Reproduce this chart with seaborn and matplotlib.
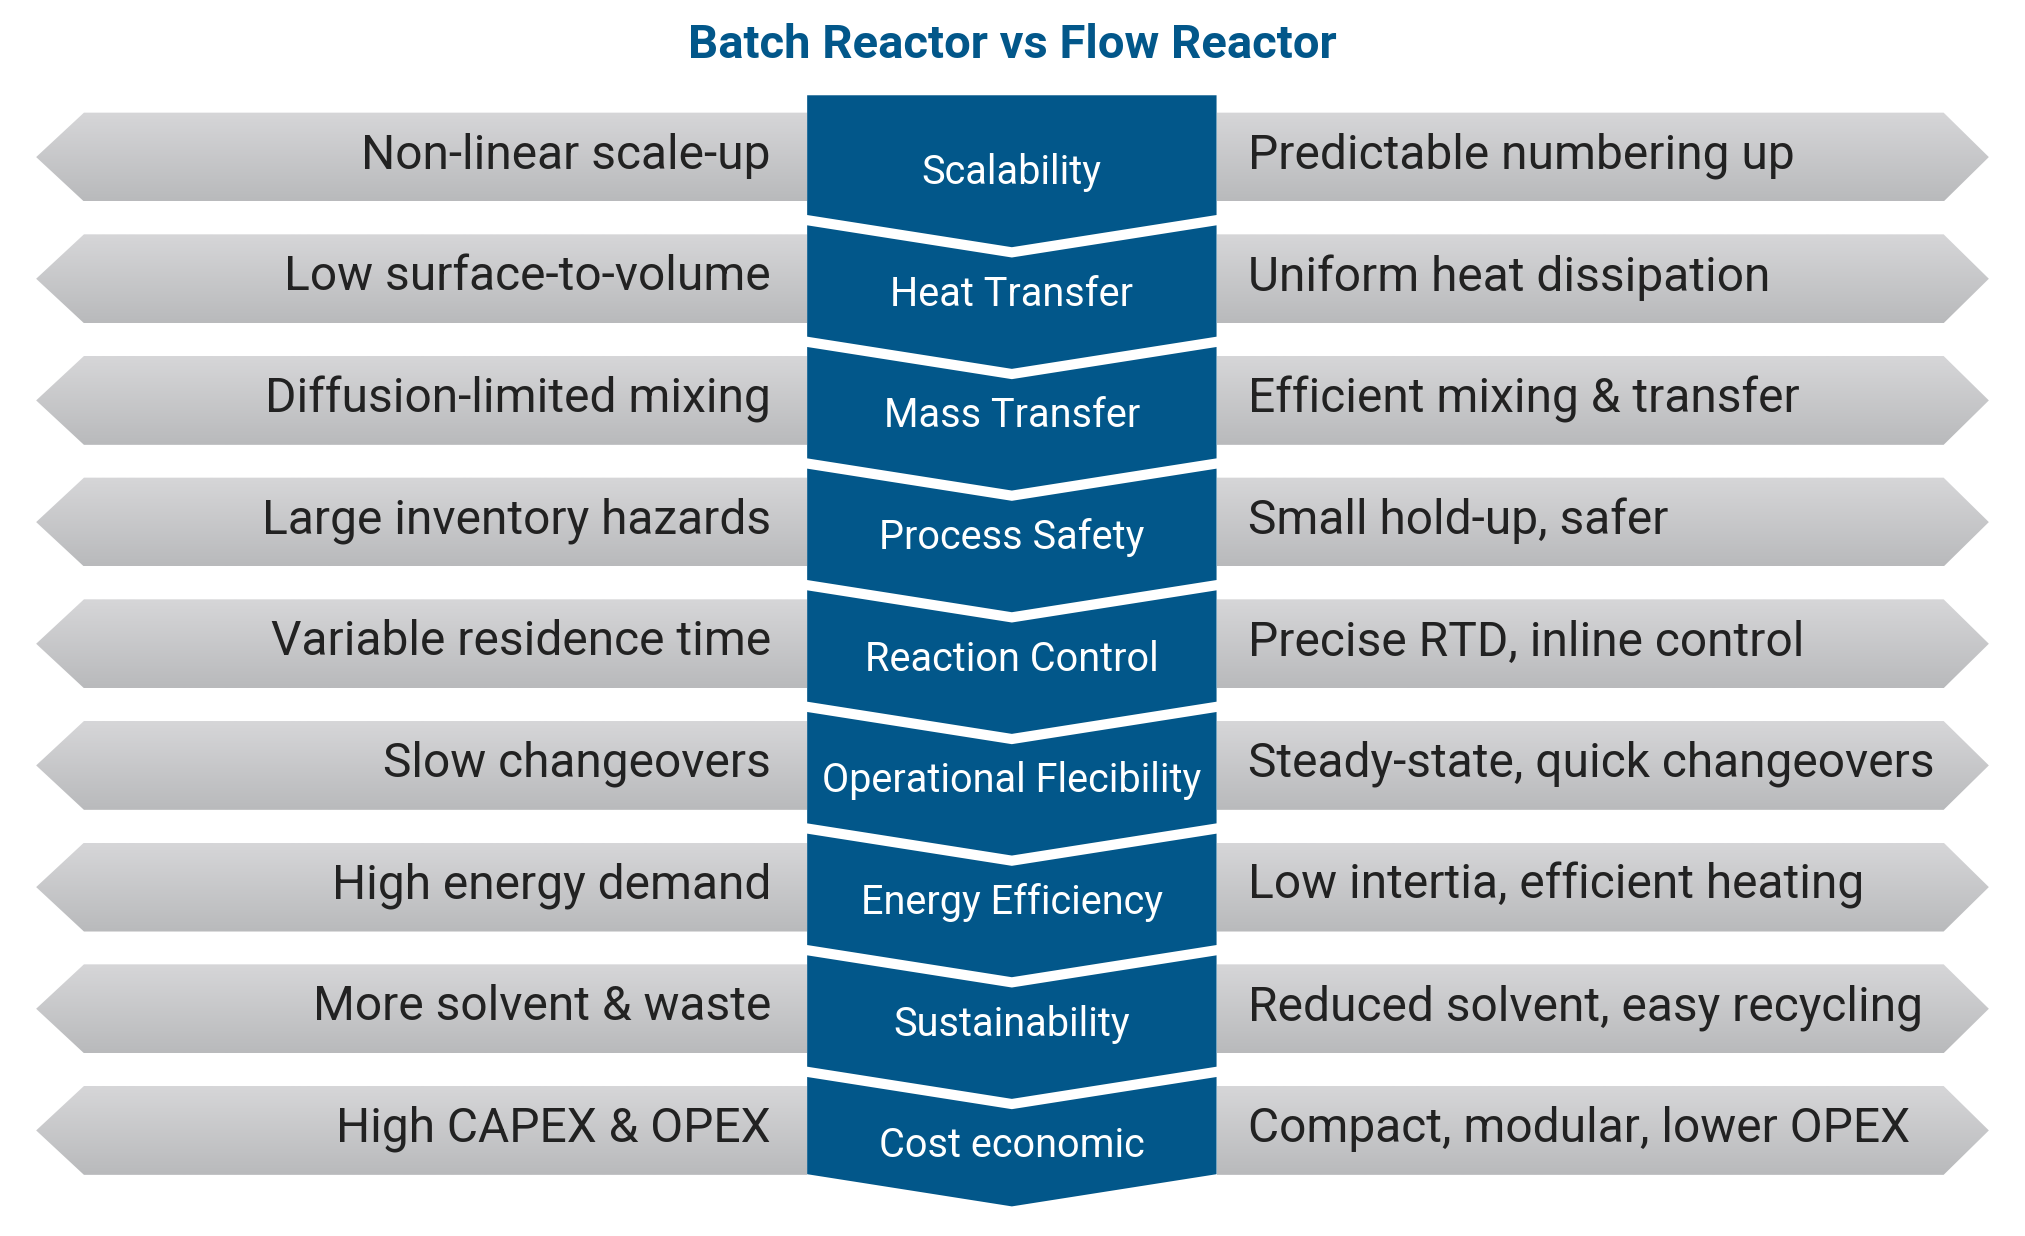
import matplotlib
matplotlib.use("Agg")
import matplotlib.pyplot as plt
import seaborn as sns
import numpy as np
from matplotlib.patches import Polygon
from matplotlib.colors import LinearSegmentedColormap

sns.set_theme(style="white")
plt.rcParams['font.family'] = ['Roboto', 'DejaVu Sans']

title = "Batch Reactor vs Flow Reactor"
categories = ["Scalability", "Heat Transfer", "Mass Transfer", "Process Safety",
              "Reaction Control", "Operational Flecibility", "Energy Efficiency",
              "Sustainability", "Cost economic"]
batch = ["Non-linear scale-up", "Low surface-to-volume", "Diffusion-limited mixing",
         "Large inventory hazards", "Variable residence time", "Slow changeovers",
         "High energy demand", "More solvent & waste", "High CAPEX & OPEX"]
flow = ["Predictable numbering up", "Uniform heat dissipation", "Efficient mixing & transfer",
        "Small hold-up, safer", "Precise RTD, inline control", "Steady-state, quick changeovers",
        "Low intertia, efficient heating", "Reduced solvent, easy recycling",
        "Compact, modular, lower OPEX"]

BLUE = "#02578a"
W, H = 1568, 960
fig = plt.figure(figsize=(20.25, 12.36), dpi=100)
ax = fig.add_axes([0, 0, 1, 1])
ax.set_xlim(0, W); ax.set_ylim(H, 0); ax.axis("off")

grad = np.linspace(0, 1, 64).reshape(-1, 1)
cmap = LinearSegmentedColormap.from_list("g", ["#d6d6d8", "#b9babc"])

n = len(categories)
centers = [122 + i * 94.5 for i in range(n)]
hh = 34.5
d = 25
prev_b = None
for i, c in enumerate(centers):
    for pts in ([(28, c), (65, c - hh), (625, c - hh), (625, c + hh), (65, c + hh)],
                [(942, c - hh), (1505, c - hh), (1540, c), (1505, c + hh), (942, c + hh)]):
        poly = Polygon(pts, closed=True, facecolor="none", edgecolor="none")
        ax.add_patch(poly)
        xs = [p[0] for p in pts]
        im = ax.imshow(grad, cmap=cmap, aspect="auto",
                       extent=[min(xs), max(xs), c + hh, c - hh], zorder=1)
        im.set_clip_path(poly)
    ax.text(597, c - 1, batch[i], ha="right", va="center", fontsize=34.5, color="#222222", zorder=3)
    ax.text(966, c - 1, flow[i], ha="left", va="center", fontsize=34.5, color="#222222", zorder=3)

    b = c + 45 if i < n - 1 else c + 34
    if i == 0:
        top = [(625, 74), (942, 74)]
    else:
        t = prev_b + 8
        top = [(625, t), (783.5, t + d), (942, t)]
    bottom = [(942, b), (783.5, b + d), (625, b)]
    ax.add_patch(Polygon(top + bottom, closed=True, facecolor=BLUE, edgecolor="none", zorder=2))
    ax.text(783.5, c + 12, categories[i], ha="center", va="center", fontsize=28.5,
            color="white", zorder=4)
    prev_b = b

ax.text(783.5, 35, title, ha="center", va="center", fontsize=34, fontweight="bold", color=BLUE)
fig.savefig("out.png", dpi=100, facecolor="white")
